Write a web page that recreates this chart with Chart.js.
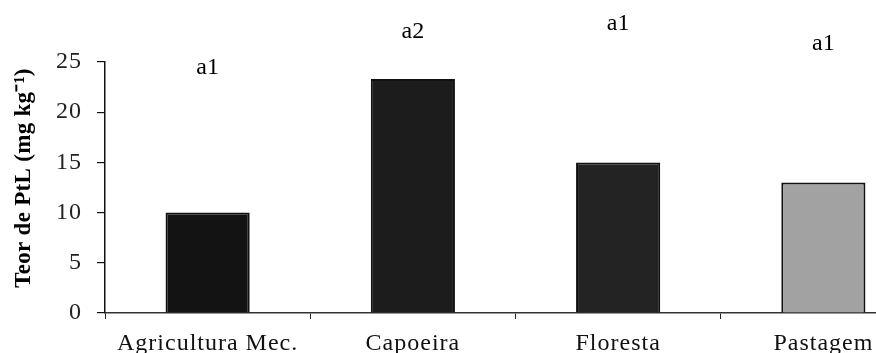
<!DOCTYPE html>
<html>
<head>
<meta charset="utf-8">
<script src="https://cdn.jsdelivr.net/npm/chart.js@4.4.1/dist/chart.umd.min.js"></script>
<style>
  html, body { margin: 0; padding: 0; background: #fff; overflow: hidden; }
  #wrap { width: 930px; height: 353px; }
</style>
</head>
<body>
<div id="wrap"><canvas id="c" width="930" height="353"></canvas></div>
<script>
// Land-use categories and PtL content per category
const categories = ['Agricultura Mec.', 'Capoeira', 'Floresta', 'Pastagem'];
const ptlValues = [10.0, 23.3, 15.0, 13.0];
const barColors = ['#131313', '#1c1c1c', '#232323', '#a2a2a2'];
const yTicks = [0, 5, 10, 15, 20, 25];
// Significance letters and the height (in axis units) they sit at
const letters = ['a1', 'a2', 'a1', 'a1'];
const letterLevels = [24.4, 28.0, 28.8, 26.8];
const yTitle = 'Teor de PtL (mg kg\u207B\u00B9)';

const serif = '"Liberation Serif", "Times New Roman", serif';

const textPlugin = {
  id: 'textPlugin',
  beforeDraw(chart) {
    chart.ctx.letterSpacing = '1px';
  },
  afterDraw(chart) {
    const ctx = chart.ctx;
    ctx.save();
    ctx.letterSpacing = '0px';
    const x = chart.scales.x, y = chart.scales.y;
    // letters above the bars
    ctx.fillStyle = '#000';
    ctx.font = '24px ' + serif;
    ctx.textAlign = 'center';
    ctx.textBaseline = 'middle';
    letters.forEach((t, i) => {
      ctx.fillText(t, x.getPixelForValue(i), y.getPixelForValue(letterLevels[i]));
    });
    // vertical axis title
    ctx.letterSpacing = '0.3px';
    ctx.font = 'bold 23px ' + serif;
    ctx.translate(24, 178);
    ctx.rotate(-Math.PI / 2);
    ctx.fillText(yTitle, 0, 0);
    ctx.restore();
  }
};

new Chart(document.getElementById('c'), {
  type: 'bar',
  data: {
    labels: categories,
    datasets: [{
      data: ptlValues,
      backgroundColor: barColors,
      borderColor: '#111',
      borderWidth: 2,
      barPercentage: 0.41,
      categoryPercentage: 1.0
    }]
  },
  options: {
    responsive: false,
    animation: false,
    layout: { padding: { top: 62, right: 4, left: 0, bottom: 0 } },
    plugins: { legend: { display: false }, tooltip: { enabled: false } },
    scales: {
      x: {
        afterFit(s) { s.height = 40; },
        grid: { offset: true, drawOnChartArea: false, drawTicks: true, tickLength: 6, color: '#222', lineWidth: 1 },
        border: { color: '#333', width: 1.5 },
        ticks: {
          color: '#111',
          font: { family: serif, size: 24 },
          padding: 10,
          maxRotation: 0,
          autoSkip: false
        }
      },
      y: {
        min: 0,
        max: 25,
        afterFit(s) { s.width = 105; },
        afterBuildTicks(s) { s.ticks = yTicks.map(v => ({ value: v })); },
        grid: { drawOnChartArea: false, drawTicks: true, tickLength: 8, color: '#111', lineWidth: 1.2 },
        border: { color: '#111', width: 1.5 },
        ticks: {
          color: '#222',
          font: { family: serif, size: 24 },
          padding: 15
        }
      }
    }
  },
  plugins: [textPlugin]
});
</script>
</body>
</html>
